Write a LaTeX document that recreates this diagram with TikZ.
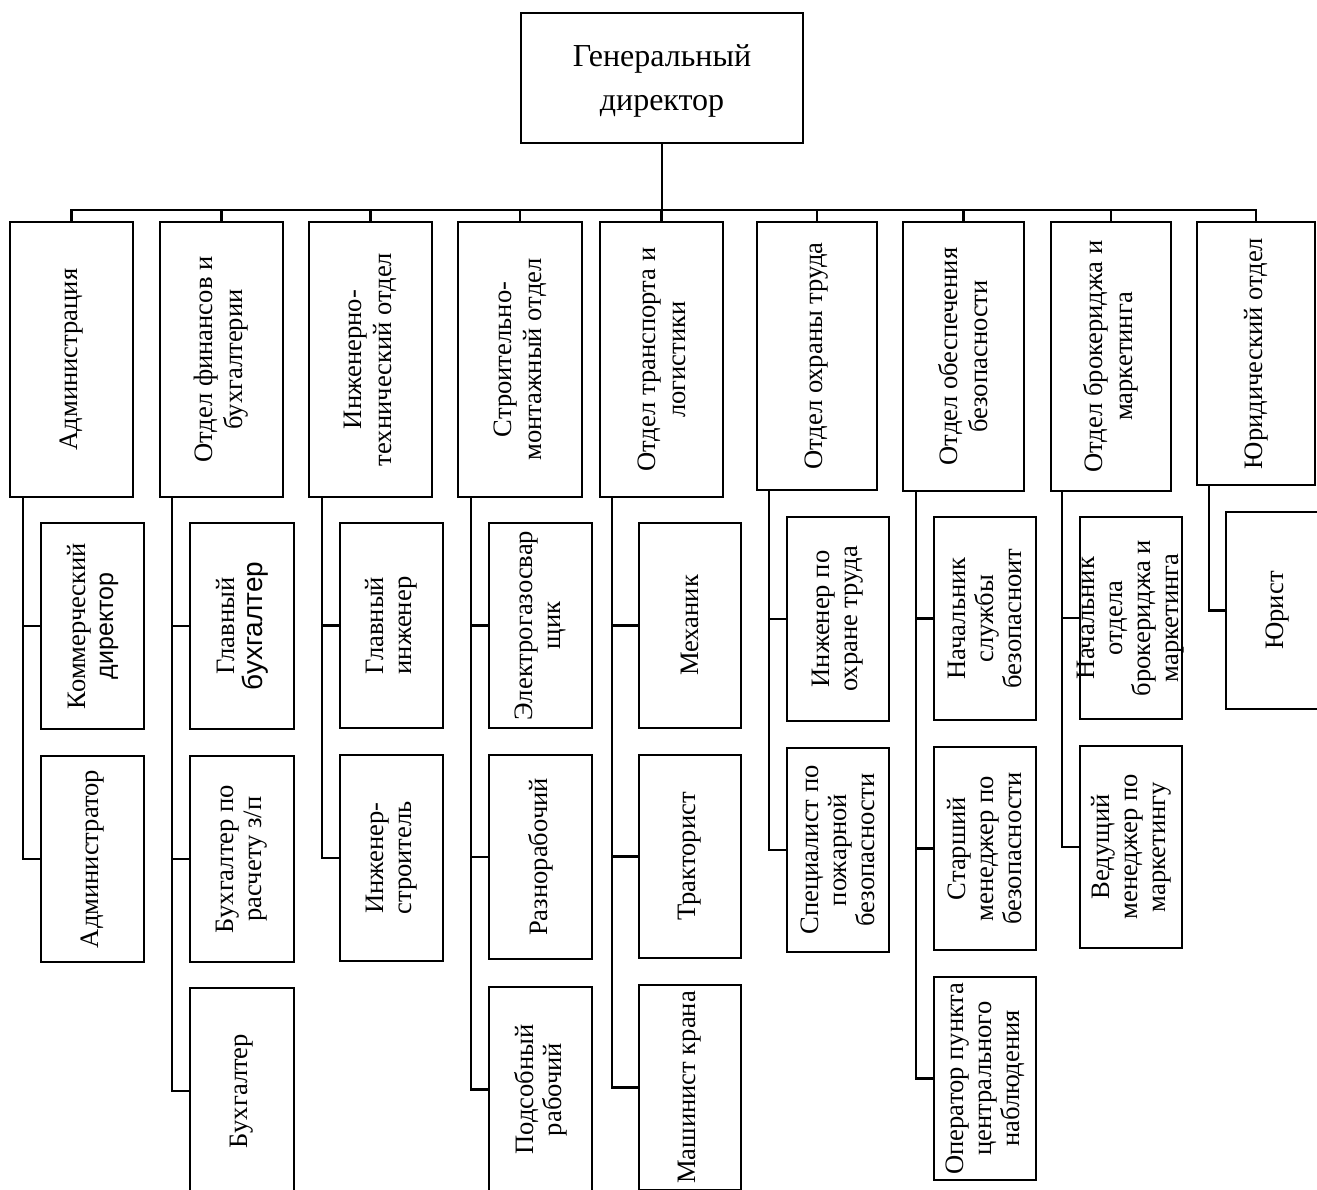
\documentclass[tikz,border=0pt]{standalone}
\usepackage{fontspec}
\setmainfont{Liberation Serif}
\setsansfont{Liberation Sans}
\newcommand\obox[6]{%
  \node[box,minimum width={#4pt-#2pt},minimum height={#5pt-#3pt}] (#1) at ({(#2+#4)/2},{(#3+#5)/2}) {};
  \node[txt] (#1-t) at (#1.center) {#6};}
\newcommand\dbox[6]{%
  \node[box,minimum width={#4pt-#2pt},minimum height={#5pt-#3pt}] (#1) at ({(#2+#4)/2},{(#3+#5)/2}) {};
  \node[txt,font=\fontsize{26.6}{30}\selectfont] (#1-t) at (#1.center) {#6};}
\newcommand\sfbig{\sffamily\fontsize{28}{30}\selectfont}
\newcommand\sfmid{\sffamily\fontsize{25}{28}\selectfont}
\begin{document}
\begin{tikzpicture}[x=1pt,y=-1pt,
  box/.style={draw,line width=1.7pt,inner sep=0pt,outer sep=0pt},
  txt/.style={rotate=90,align=center,inner sep=0pt,font=\fontsize{26.6}{28}\selectfont},
  conn/.style={line width=2.1pt},
  mainline/.style={line width=2.8pt}]
\useasboundingbox (0,0) rectangle (1317,1189);
\clip (0,0) rectangle (1317,1189);
\fill[white] (0,0) rectangle (1317,1189);

% top
\node[box,minimum width=282pt,minimum height=130pt] (gd) at (662,78) {};
\node[align=center,inner sep=0pt,font=\fontsize{32}{44}\selectfont] (gd-t) at (662,81) {Генеральный\\директор};

% departments
\dbox{d1}{10}{222}{133}{497}{Администрация}
\dbox{d2}{160}{222}{283}{497}{Отдел финансов и\\бухгалтерии}
\dbox{d3}{309}{222}{432}{497}{Инженерно-\\технический отдел}
\dbox{d4}{458}{222}{582}{497}{Строительно-\\монтажный отдел}
\dbox{d5}{600}{222}{723}{497}{Отдел транспорта и\\логистики}
\dbox{d6}{757}{222}{877}{490}{Отдел охраны труда}
\dbox{d7}{903}{222}{1024}{491}{Отдел обеспечения\\безопасности}
\dbox{d8}{1051}{222}{1171}{491}{Отдел брокериджа и\\маркетинга}
\dbox{d9}{1197}{222}{1315}{485}{Юридический отдел}

% children
\obox{c11}{41}{523}{144}{729}{Коммерческий\\{\sfmid директор}}
\obox{c12}{41}{756}{144}{962}{Администратор}
\obox{c21}{190}{523}{294}{729}{Главный\\{\sfbig бухгалтер}}
\obox{c22}{190}{756}{294}{962}{Бухгалтер по\\расчету з/п}
\obox{c23}{190}{988}{294}{1194}{Бухгалтер}
\obox{c31}{340}{523}{443}{728}{Главный\\инженер}
\obox{c32}{340}{755}{443}{961}{Инженер-\\строитель}
\obox{c41}{489}{523}{592}{728}{Электрогазосвар\\щик}
\obox{c42}{489}{755}{592}{959}{Разнорабочий}
\obox{c43}{489}{987}{592}{1192}{Подсобный\\рабочий}
\obox{c51}{639}{523}{741}{728}{Механик}
\obox{c52}{639}{755}{741}{958}{Тракторист}
\obox{c53}{639}{985}{741}{1190}{Машинист крана}
\obox{c61}{787}{517}{889}{721}{Инженер по\\охране труда}
\obox{c62}{787}{748}{889}{952}{Специалист по\\пожарной\\безопасности}
\obox{c71}{934}{517}{1036}{720}{Начальник\\службы\\безопасноит}
\obox{c72}{934}{747}{1036}{950}{Старший\\менеджер по\\безопасности}
\obox{c73}{934}{977}{1036}{1180}{Оператор пункта\\центрального\\наблюдения}
\obox{c81}{1080}{517}{1182}{719}{Начальник\\отдела\\брокериджа и\\маркетинга}
\obox{c82}{1080}{746}{1182}{948}{Ведущий\\менеджер по\\маркетингу}
\obox{c91}{1226}{512}{1329}{709}{Юрист}

% top connectors
\coordinate (bus) at (0,210);
\draw[mainline] (gd.south) -- (gd.south |- bus);
\draw[conn] (d1.north) -- (d1.north |- bus) -| (d9.north);
\foreach \d in {d2,d3,d4,d5,d6,d7,d8}
  \draw[conn] (\d.north) -- (\d.north |- bus);

% trunks
\coordinate (t1) at (23,0);
\coordinate (t2) at (172,0);
\coordinate (t3) at (322,0);
\coordinate (t4) at (471,0);
\coordinate (t5) at (612,0);
\coordinate (t6) at (769,0);
\coordinate (t7) at (916,0);
\coordinate (t8) at (1062,0);
\coordinate (t9) at (1209,0);

\draw[conn] (t1 |- d1.south) |- (c12.west);
\draw[conn] (t1 |- c11.west) -- (c11.west);
\draw[conn] (t2 |- d2.south) |- (c23.west);
\draw[conn] (t2 |- c21.west) -- (c21.west);
\draw[conn] (t2 |- c22.west) -- (c22.west);
\draw[conn] (t3 |- d3.south) |- (c32.west);
\draw[conn] (t3 |- c31.west) -- (c31.west);
\draw[conn] (t4 |- d4.south) |- (c43.west);
\draw[conn] (t4 |- c41.west) -- (c41.west);
\draw[conn] (t4 |- c42.west) -- (c42.west);
\draw[conn] (t5 |- d5.south) |- (c53.west);
\draw[conn] (t5 |- c51.west) -- (c51.west);
\draw[conn] (t5 |- c52.west) -- (c52.west);
\draw[conn] (t6 |- d6.south) |- (c62.west);
\draw[conn] (t6 |- c61.west) -- (c61.west);
\draw[conn] (t7 |- d7.south) |- (c73.west);
\draw[conn] (t7 |- c71.west) -- (c71.west);
\draw[conn] (t7 |- c72.west) -- (c72.west);
\draw[conn] (t8 |- d8.south) |- (c82.west);
\draw[conn] (t8 |- c81.west) -- (c81.west);
\draw[conn] (t9 |- d9.south) |- (c91.west);
\end{tikzpicture}
\end{document}
